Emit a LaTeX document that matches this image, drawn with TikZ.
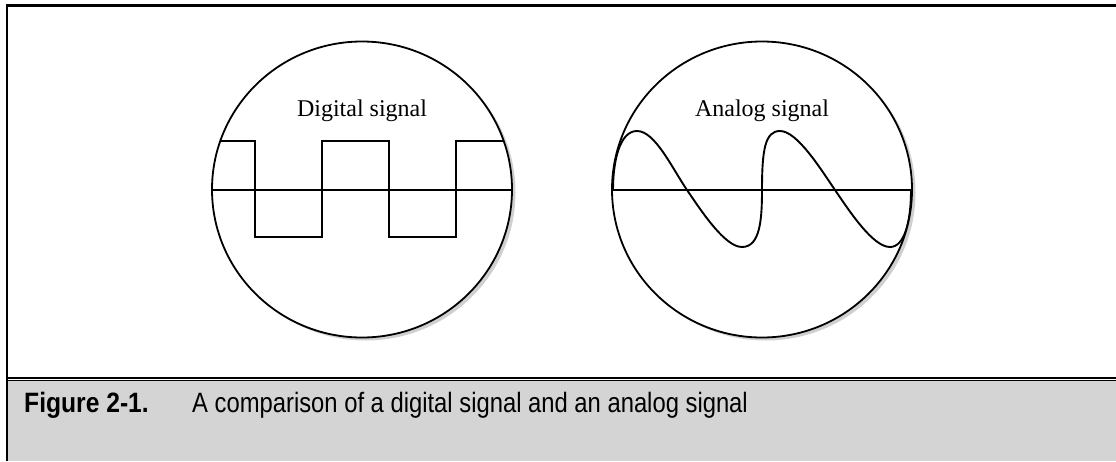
\documentclass[tikz,border=0pt]{standalone}
\usepackage{fontspec}
\usepackage{graphicx}
\newfontfamily\capfont{Liberation Sans}
\newfontfamily\lblfont{Liberation Serif}
\definecolor{capgray}{HTML}{D4D4D4}
\definecolor{shadowgray}{HTML}{D0D0D0}
\tikzset{
  frameline/.style={line width=2.5pt},
  scope/.style={line width=1.8pt},
  wave/.style={line width=1.9pt, line join=miter},
  axisline/.style={line width=2pt},
  label/.style={font=\lblfont\fontsize{24}{26}\selectfont, inner sep=0, anchor=base},
}
\begin{document}
\begin{tikzpicture}[x=1pt,y=-1pt]
\useasboundingbox (0,0) rectangle (1116,461);
% caption band
\fill[capgray] (7,381) rectangle (1116,461);
% frame
\draw[frameline] (1116,5.5) -| (7,461);
\draw[line width=1.8pt] (7,377.6) -- (1116,377.6);
\draw[line width=1.2pt] (7,380.6) -- (1116,380.6);

% ---------- digital scope ----------
\fill[shadowgray] (365.5,192.5) ellipse [x radius=150, y radius=148];
\fill[white] (362,189.5) ellipse [x radius=150, y radius=148];
\begin{scope}
  \clip (362,189.5) ellipse [x radius=150, y radius=148];
  \draw[axisline] (200,190) -- (525,190);
  \draw[wave] (200,141) -- (255,141) -- (255,237) -- (322,237) -- (322,141)
     -- (389,141) -- (389,237) -- (456,237) -- (456,141) -- (525,141);
\end{scope}
\draw[scope] (362,189.5) ellipse [x radius=150, y radius=148];
\node[label] (dig) at (362,116) {Digital signal};

% ---------- analog scope ----------
\fill[shadowgray] (765.5,192.5) ellipse [x radius=150, y radius=148];
\fill[white] (762,189.5) ellipse [x radius=150, y radius=148];
\begin{scope}
  \clip (762,189.5) ellipse [x radius=150, y radius=148];
  \draw[axisline] (600,190) -- (925,190);
  \draw[wave] (613,190) .. controls (613,160) and (620,131) .. (637,131)
     .. controls (655,131) and (672,168) .. (687,190)
     .. controls (702,212) and (725,247) .. (742,247)
     .. controls (760,247) and (762,220) .. (762,190)
     .. controls (762,150) and (765,131) .. (780,131)
     .. controls (797,131) and (820,168) .. (835,190)
     .. controls (850,212) and (873,247) .. (890,247)
     .. controls (905,247) and (911,220) .. (911,190);
\end{scope}
\draw[scope] (762,189.5) ellipse [x radius=150, y radius=148];
\node[label] (ana) at (762,116) {Analog signal};

% ---------- caption ----------
\node[anchor=base west, inner sep=0] (fig) at (24,412)
  {\scalebox{0.88}[1]{\capfont\bfseries\fontsize{28}{30}\selectfont Figure 2-1.}};
\node[anchor=base west, inner sep=0] (captext) at (192,412)
  {\scalebox{0.85}[1]{\capfont\fontsize{28}{30}\selectfont A comparison of a digital signal and an analog signal}};
\end{tikzpicture}
\end{document}
